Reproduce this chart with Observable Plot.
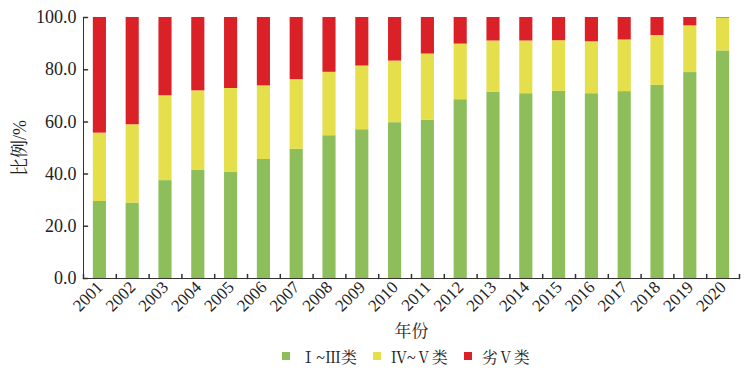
<!DOCTYPE html>
<html>
<head>
<meta charset="utf-8">
<script src="https://cdn.jsdelivr.net/npm/d3@7"></script>
<script src="https://cdn.jsdelivr.net/npm/@observablehq/plot@0.6"></script>
<style>
  html, body { margin: 0; padding: 0; background: #fff; }
  #chart { width: 750px; }
  .legend { display: flex; justify-content: center; align-items: center; gap: 16px;
    font-family: 'Liberation Serif', 'Noto Serif CJK SC', serif; font-size: 16px; color: #222;
    padding-left: 62px; height: 22px; }
  .legend span.sw { display: inline-block; width: 8px; height: 8px; margin-right: 10px; }
  .legend .item { display: flex; align-items: center; }
</style>
</head>
<body>
<div id="chart"></div>
<script>
const years = ["2001","2002","2003","2004","2005","2006","2007","2008","2009","2010",
               "2011","2012","2013","2014","2015","2016","2017","2018","2019","2020"];
const categories = ["Ⅰ~Ⅲ类", "Ⅳ~Ⅴ类", "劣Ⅴ类"];
const colors = ["#8dbe59", "#e4df4b", "#da2128"];
// Ⅰ~Ⅲ类 share (%)
const classI_III = [29.5, 28.9, 37.5, 41.4, 40.6, 45.6, 49.5, 54.7, 57.0, 59.7,
                    60.6, 68.5, 71.3, 70.8, 71.7, 70.8, 71.6, 74.0, 78.9, 87.2];
// Ⅳ~Ⅴ类 share (%)
const classIV_V = [26.2, 30.0, 32.5, 30.5, 32.2, 28.2, 26.7, 24.3, 24.4, 23.6,
                   25.4, 21.3, 19.7, 20.2, 19.4, 19.9, 19.8, 19.1, 17.9, 12.6];
// 劣Ⅴ类 share (%)
const classV_plus = [44.3, 41.1, 30.0, 28.1, 27.2, 26.2, 23.8, 21.0, 18.6, 16.7,
                     14.0, 10.2, 9.0, 9.0, 8.9, 9.3, 8.6, 6.9, 3.2, 0.2];
const yTicks = [0, 20, 40, 60, 80, 100];

const series = [classI_III, classIV_V, classV_plus];
const table = [];
years.forEach((yr, i) => {
  categories.forEach((c, k) => table.push({year: yr, cat: c, value: series[k][i]}));
});

const W = 750, H = 345;
const mL = 83, mR = 11, mT = 17, mB = 67;
const step = (W - mL - mR) / years.length;
const barInset = step * 0.3;
const font = "'Liberation Serif', 'Noto Serif CJK SC', serif";
const lineShape = {draw(context, l) { context.moveTo(0, 0); context.lineTo(0, -l); }};

const chart = Plot.plot({
  width: W, height: H,
  marginLeft: mL, marginRight: mR, marginTop: mT, marginBottom: mB,
  style: {fontFamily: font, fontSize: "17px", color: "#222", background: "#fff"},
  x: {type: "band", domain: years, padding: 0, round: false},
  y: {domain: [0, 100]},
  color: {domain: categories, range: colors},
  marks: [
    Plot.barY(table, Plot.stackY({x: "year", y: "value", fill: "cat", order: categories,
      insetLeft: barInset, insetRight: barInset})),
    Plot.frame({anchor: "left", stroke: "#333"}),
    Plot.frame({anchor: "bottom", stroke: "#333"}),
    Plot.vector(yTicks, {y: d => d, frameAnchor: "left", rotate: 90, length: 4, anchor: "start", shape: lineShape, stroke: "#333"}),
    Plot.vector(years, {x: d => d, frameAnchor: "bottom", dx: -step / 2, rotate: 0, length: 4, anchor: "start", shape: lineShape, stroke: "#333"}),
    Plot.vector(years.slice(-1), {x: d => d, frameAnchor: "bottom", dx: step / 2, rotate: 0, length: 4, anchor: "start", shape: lineShape, stroke: "#333"}),
    Plot.axisY({ticks: yTicks, tickFormat: d3.format(".1f"), tickSize: 0, tickPadding: 7,
      fontSize: 18,
      label: "比例/%", labelAnchor: "center", labelArrow: "none", labelOffset: 70}),
    Plot.axisX({tickSize: 0, tickRotate: -45, tickPadding: 6, fontSize: 17,
      label: "年份", labelAnchor: "center", labelArrow: "none", labelOffset: 58})
  ]
});
chart.querySelectorAll("text").forEach(t => t.style.fontFamily = font);
document.getElementById("chart").appendChild(chart);

const legend = document.createElement("div");
legend.className = "legend";
categories.forEach((c, k) => {
  const it = document.createElement("div");
  it.className = "item";
  const sw = document.createElement("span");
  sw.className = "sw";
  sw.style.background = colors[k];
  it.appendChild(sw);
  it.appendChild(document.createTextNode(c));
  legend.appendChild(it);
});
document.getElementById("chart").appendChild(legend);
</script>
</body>
</html>
